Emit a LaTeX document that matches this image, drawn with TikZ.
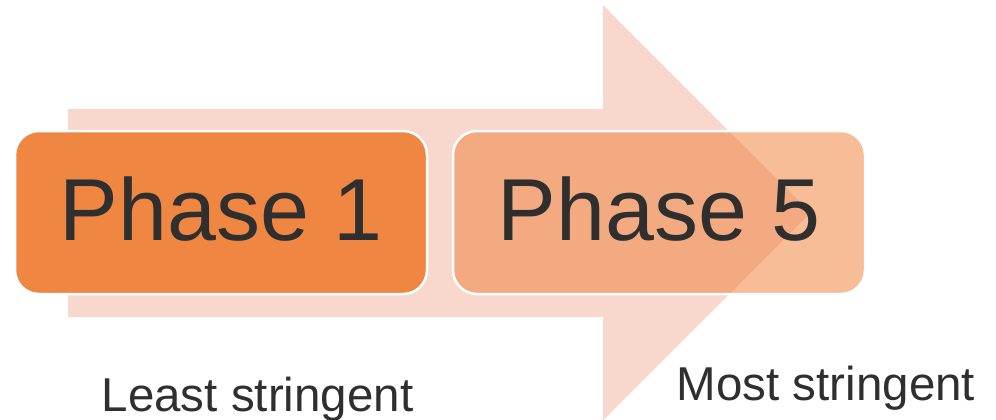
\documentclass[tikz,border=0pt]{standalone}
\usepackage{fontspec}
\setmainfont{Liberation Sans}
\definecolor{arrowpink}{RGB}{248,216,205}
\definecolor{phaseorange}{RGB}{239,134,65}
\definecolor{textgray}{RGB}{47,47,47}
\begin{document}
\begin{tikzpicture}[x=1pt,y=-1pt,
  phasebox/.style={draw=white, line width=2.5pt, rounded corners=24pt,
    minimum width=412pt, minimum height=163pt, inner sep=0pt,
    text=textgray, text height=64pt, text depth=9pt,
    font=\fontsize{88}{96}\selectfont},
  sidelabel/.style={anchor=base, text=textgray, inner sep=0pt,
    font=\fontsize{47.5}{52}\selectfont}]
\useasboundingbox (0,0) rectangle (996,420);
\begin{scope}
\clip (0,0) rectangle (996,420);
\fill[arrowpink] (68,109) -- (603,109) -- (603,5) -- (810.5,212.75)
  -- (603,420.5) -- (603,317) -- (68,317) -- cycle;
\end{scope}
\node[phasebox, fill=phaseorange] (p1) at (221,212.5) {Phase 1};
\node[phasebox, fill=phaseorange, fill opacity=0.55, text opacity=1] (p5) at (659,212.5) {Phase 5};
\node[sidelabel] (least) at (257.5,411.5) {Least stringent};
\node[sidelabel] (most) at (826,400) {Most stringent};
\end{tikzpicture}
\end{document}
